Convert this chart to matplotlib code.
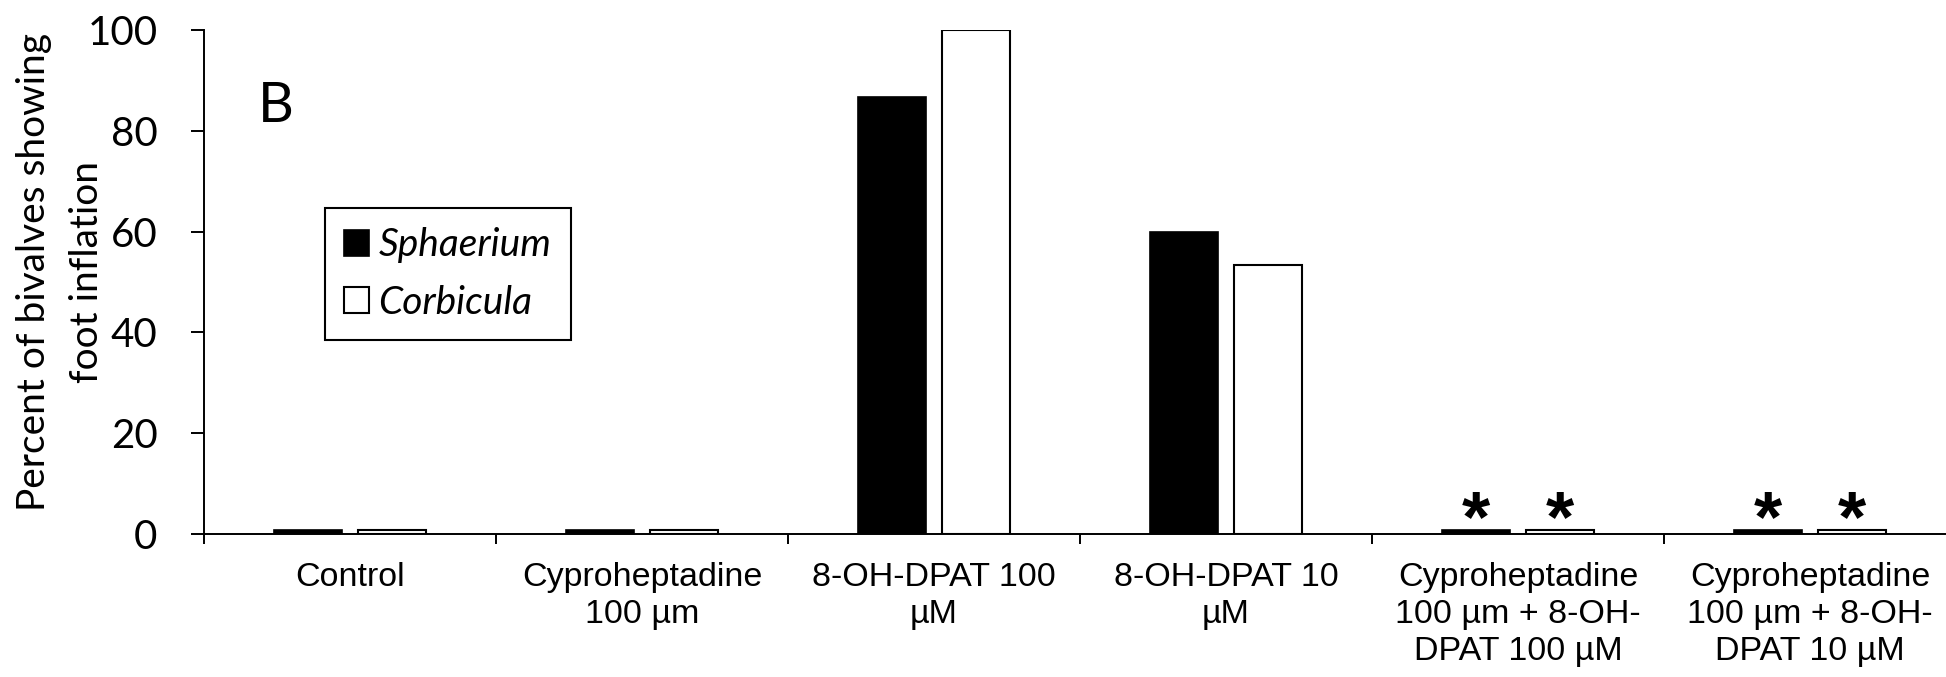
import numpy as np
import matplotlib
matplotlib.use("Agg")
import matplotlib.pyplot as plt

# data
categories = ["Control", "Cyproheptadine\n100 µm", "8-OH-DPAT 100\nµM", "8-OH-DPAT 10\nµM",
              "Cyproheptadine\n100 µm + 8-OH-\nDPAT 100 µM", "Cyproheptadine\n100 µm + 8-OH-\nDPAT 10 µM"]
sphaerium = [0.7, 0.7, 86.7, 60.0, 0.7, 0.7]
corbicula = [0.7, 0.7, 100.0, 53.3, 0.7, 0.7]
starred = [4, 5]
yticks = [0, 20, 40, 60, 80, 100]
ylabel_lines = ["Percent of bivalves showing", "foot inflation"]

W, H = 1946, 677
fig = plt.figure(figsize=(W / 100, H / 100), dpi=100)
# axes runs a little past the right edge, as in the cropped original
ax = fig.add_axes([204 / W, 1 - 534 / H, 1752 / W, 504 / H])

x = np.arange(len(categories)) + 0.5
w = 0.233
off = 0.143
ax.bar(x - off, sphaerium, w, color="black", edgecolor="black", linewidth=1.2, label="Sphaerium")
ax.bar(x + off, corbicula, w, color="white", edgecolor="black", linewidth=1.5, label="Corbicula")

# significance marks
for i in starred:
    for xx in (x[i] - off, x[i] + off):
        ax.text(xx, -1.3, "*", ha="center", va="baseline", fontsize=52, fontweight="bold",
                family="Liberation Sans", clip_on=False)

ax.set_xlim(0, len(categories))
ax.set_ylim(0, 100)
ax.set_xticks(np.arange(len(categories) + 1))
ax.set_xticklabels([])
ax.set_xticks(x, minor=True)
ax.set_xticklabels(categories, minor=True, family="Liberation Sans", fontsize=24.5, linespacing=1.25)
ax.tick_params(axis="x", which="minor", length=0, pad=20)
ax.tick_params(axis="x", which="major", direction="out", length=7, width=1.4)
ax.set_yticks(yticks)
ax.set_yticklabels([str(v) for v in yticks], family="Lato", fontsize=29)
ax.tick_params(axis="y", direction="out", length=9.4, width=1.4, pad=24)

for s in ("top", "right"):
    ax.spines[s].set_visible(False)
for s in ("left", "bottom"):
    ax.spines[s].set_linewidth(1.4)

# y label, two lines placed separately
for xp, line in zip([45, 98], ylabel_lines):
    fig.text(xp / W, 1 - 272 / H, line, rotation=90, rotation_mode="anchor",
             ha="center", va="baseline", family="Lato", fontsize=28)

fig.text(258 / W, 1 - 106 / H, "B", family="Lato", fontsize=40, va="center", ha="left")

leg = ax.legend(loc="upper left", bbox_to_anchor=(325 / W, 1 - 208 / H),
                bbox_transform=fig.transFigure, fancybox=False, edgecolor="black",
                framealpha=1, prop={"family": "Lato", "style": "italic", "size": 28},
                handlelength=0.64, handleheight=0.64, handletextpad=0.23,
                borderpad=0.5, labelspacing=0.55, borderaxespad=0)
leg.get_frame().set_linewidth(1.5)

fig.savefig("out.png", dpi=100)
